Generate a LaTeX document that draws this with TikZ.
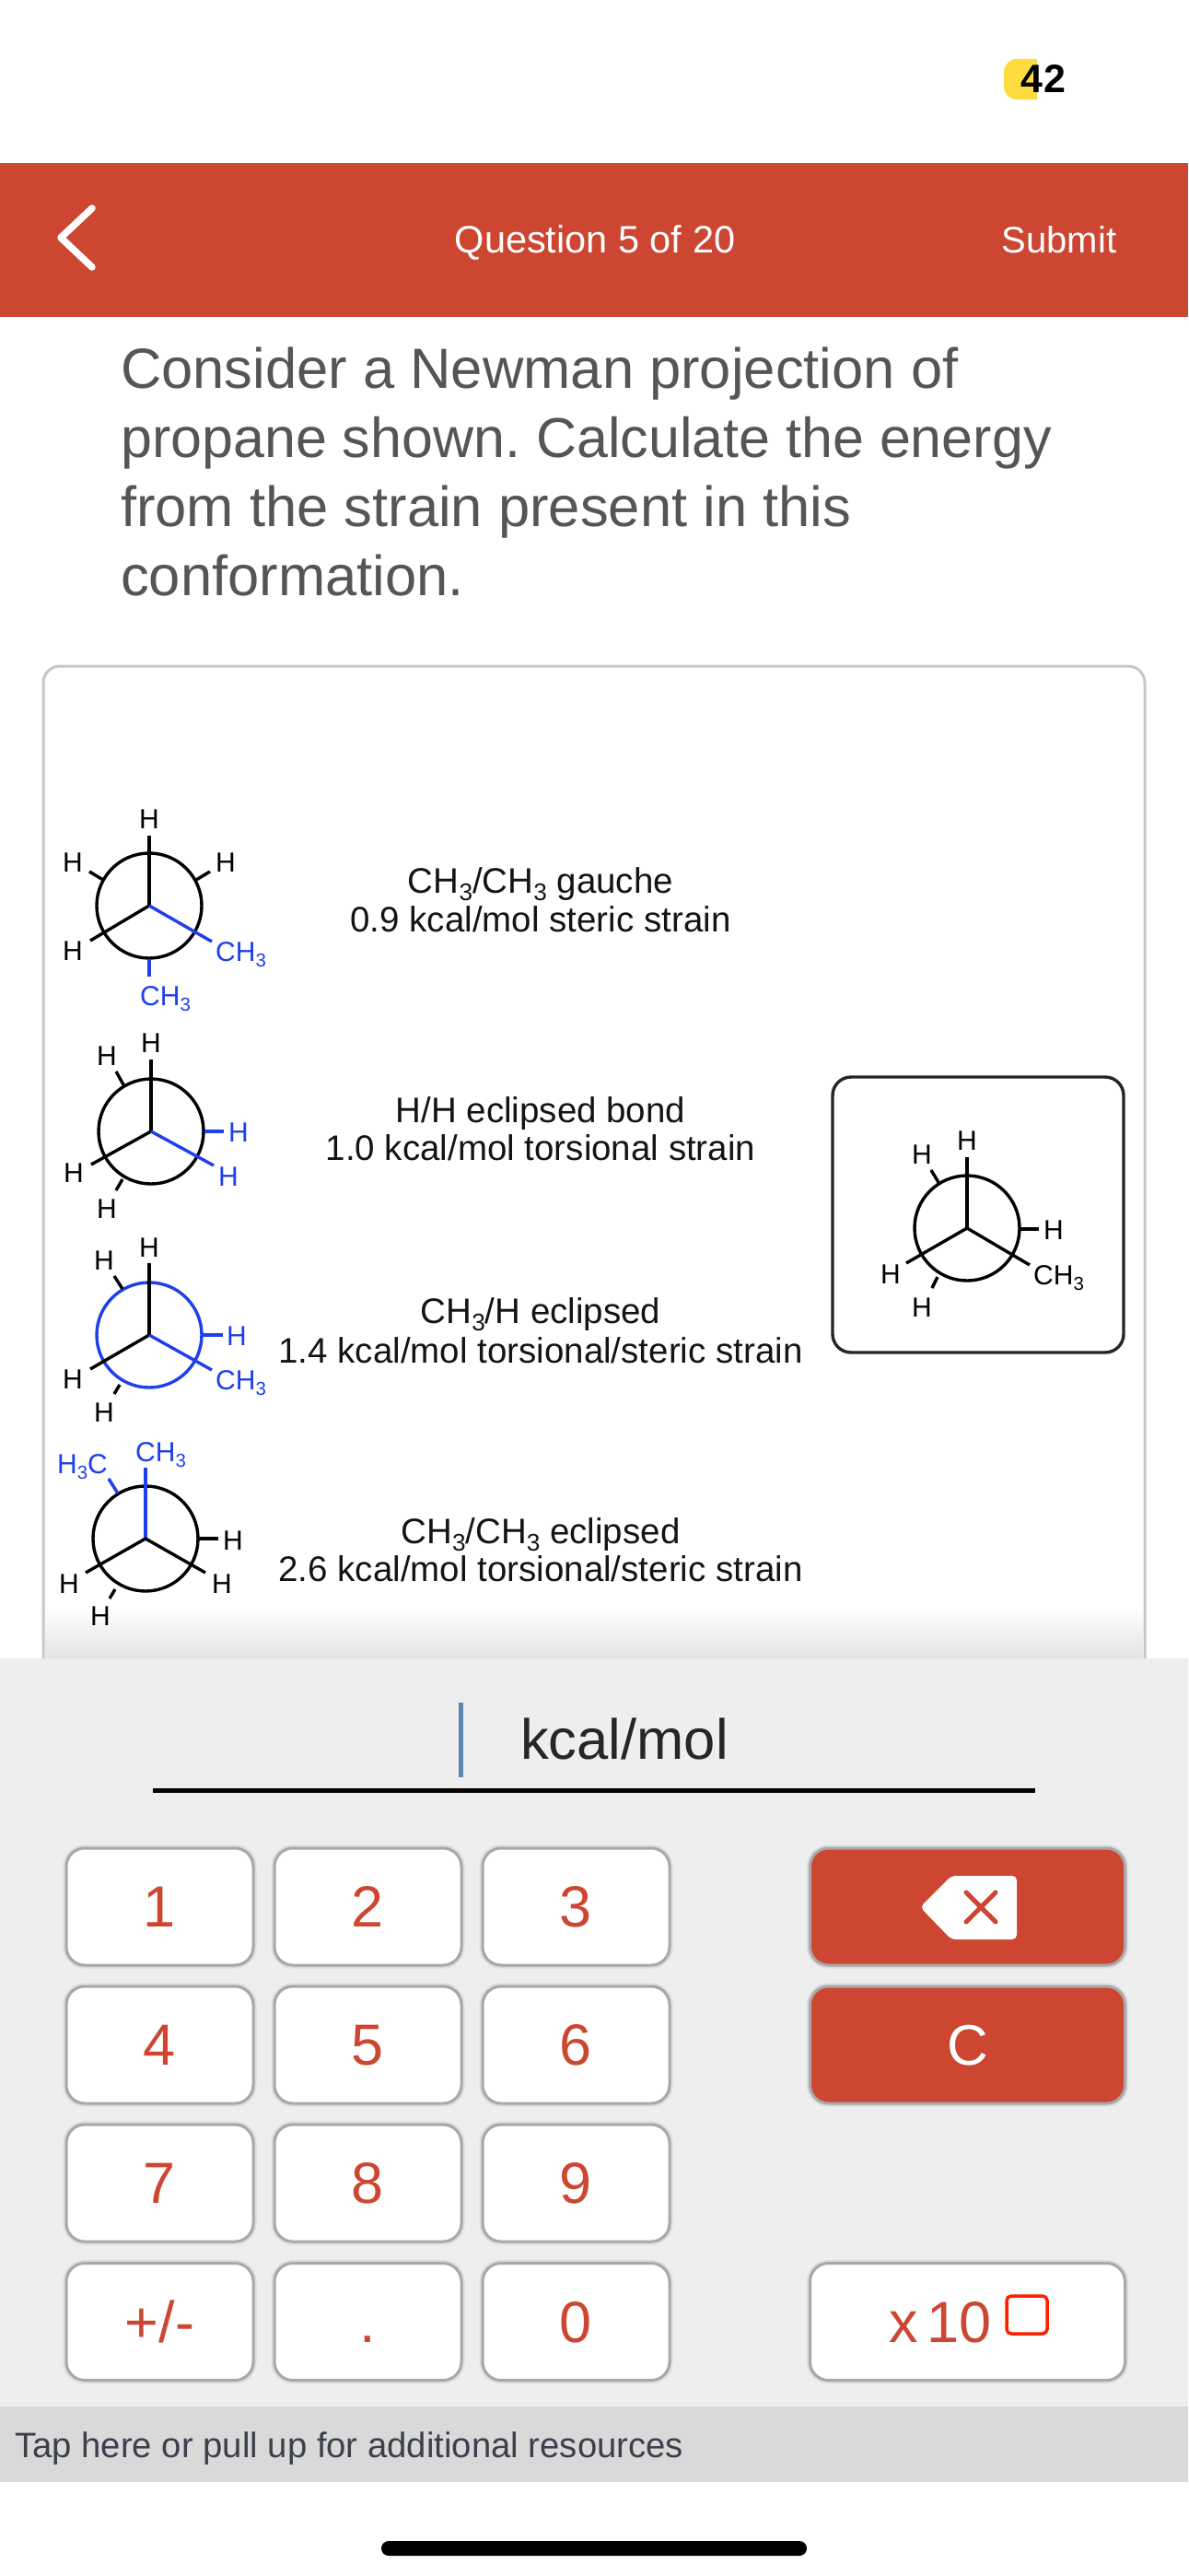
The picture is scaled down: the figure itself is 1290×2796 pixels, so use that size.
\documentclass[tikz,border=0pt]{standalone}
\usepackage{fontspec}
\setmainfont{Liberation Sans}
\definecolor{appred}{HTML}{CC4631}
\definecolor{chemblue}{HTML}{1F3FE8}
\definecolor{greytxt}{HTML}{555555}
\definecolor{keybg}{HTML}{EEEEEE}
\definecolor{keyedge}{HTML}{A8A8A8}
\definecolor{taptxt}{HTML}{3C404A}
\definecolor{cursorblue}{HTML}{5F86AD}
\newcommand{\fs}[1]{\fontsize{#1}{#1}\selectfont}
\newcommand{\three}{\raisebox{-0.21em}{\scalebox{.68}{3}}}
\newcommand{\CHt}{CH\three}
\tikzset{
  x=1pt,y=-1pt,
  bond/.style={line width=3.4pt,black},
  bbond/.style={line width=3.4pt,chemblue},
  ring/.style={line width=3.4pt,draw=black},
  bring/.style={line width=3.4pt,draw=chemblue},
  atom/.style={inner sep=0pt,anchor=base,font=\fs{30},yshift=-11pt,text=black},
  batom/.style={atom,text=chemblue},
  grp/.style={atom,anchor=base west},
  bgrp/.style={batom,anchor=base west},
  strain/.style={inner sep=0pt,anchor=base,font=\fs{38.5},yshift=-14pt,text=black!92},
  prompt/.style={inner sep=0pt,anchor=base west,font=\fs{61.5},text=greytxt},
  keybox/.style={draw=keyedge,line width=3pt,fill=white,rounded corners=20pt,minimum width=203pt,minimum height=127pt,inner sep=0pt,preaction={draw=black!14,line width=7pt}},
  redkey/.style={keybox,fill=appred,minimum width=342pt},
  keytxt/.style={inner sep=0pt,anchor=base,font=\fs{63},text=appred,yshift=-22pt}
}
\begin{document}
\frenchspacing
\begin{tikzpicture}
\useasboundingbox (0,0) rectangle (1290,2796);
\fill[white] (0,0) rectangle (1290,2796);
% status badge
\fill[yellow!70!orange!75] (1126,64) [rounded corners=14pt] -- (1090,64) -- (1090,108) [sharp corners] -- (1126,108) -- cycle;
\node[inner sep=0pt,anchor=base,font=\bfseries\fs{43}] (timer) at (1133,101) {4\kern2pt 2};
% header
\fill[appred] (0,177) rectangle (1290,344);
\draw[white,line width=7.5pt,line cap=round,line join=round] (100,226) -- (66,258) -- (100,290);
\node[inner sep=0pt,anchor=base,font=\fs{41.5},text=white] (title) at (646,275) {Question 5 of 20};
\node[inner sep=0pt,anchor=base,font=\fs{40},text=white] (submit) at (1150,275) {Submit};
% question
\node[prompt] (q1) at (131,421) {Consider a Newman projection of};
\node[prompt,font=\fs{61}] (q2) at (131,496) {propane shown. Calculate the energy};
\node[prompt] (q3) at (131,571) {from the strain present in this};
\node[prompt] (q4) at (131,646) {conformation.};
% panel
\draw[black!22,line width=3pt,fill=white,rounded corners=18pt] (47,1830) -- (47,723) -- (1243,723) -- (1243,1830);
\shade[top color=white,bottom color=black!11] (49,1745) rectangle (1241,1800);
% Newman 1
\coordinate (a) at (162,983);
\draw[ring] (a) circle (57);
\draw[bond] (a) -- (162,907);
\draw[bond] (a) -- (98,1021);
\draw[bbond] (a) -- (230,1022);
\draw[bond] (97,946) -- (112,955);
\draw[bond] (228,946) -- (213,955);
\draw[bbond] (162,1041) -- (162,1060);
\node[atom] at (162,888) {H};
\node[atom] at (79,935) {H};
\node[atom] at (245,935) {H};
\node[atom] at (79,1031) {H};
\node[bgrp] at (234,1032) {\CHt};
\node[bgrp] at (152,1080) {\CHt};
\node[strain] at (587,955) {CH\three/CH\three{} gauche};
\node[strain] at (587,997) {0.9 kcal/mol steric strain};
% Newman 2
\coordinate (b) at (164,1228);
\draw[ring] (b) circle (57);
\draw[bond] (b) -- (164,1150);
\draw[bond] (b) -- (99,1264);
\draw[bbond] (b) -- (232,1265);
\draw[bond] (126,1163) -- (135,1179);
\draw[bbond] (222,1228) -- (243,1228);
\draw[bond] (133,1280) -- (126,1292);
\node[atom] at (164,1131) {H};
\node[atom] at (116,1145) {H};
\node[batom] at (259,1228) {H};
\node[batom] at (248,1276) {H};
\node[atom] at (80,1272) {H};
\node[atom] at (116,1311) {H};
\node[strain] at (587,1204) {H/H eclipsed bond};
\node[strain] at (587,1245) {1.0 kcal/mol torsional strain};
% Newman 3
\coordinate (c) at (162,1449);
\draw[bring] (c) circle (57);
\draw[bond] (c) -- (162,1371);
\draw[bond] (c) -- (98,1486);
\draw[bbond] (c) -- (230,1487);
\draw[bond] (124,1385) -- (133,1399);
\draw[bbond] (218,1449) -- (242,1449);
\draw[bond] (130,1503) -- (124,1513);
\node[atom] at (162,1353) {H};
\node[atom] at (113,1367) {H};
\node[batom] at (257,1449) {H};
\node[bgrp] at (234,1497) {\CHt};
\node[atom] at (79,1496) {H};
\node[atom] at (113,1532) {H};
\node[strain] at (587,1422) {CH\three/H eclipsed};
\node[strain] at (587,1465) {1.4 kcal/mol torsional/steric strain};
% Newman 4
\coordinate (d) at (158,1670);
\draw[ring] (d) circle (57);
\draw[bbond] (d) -- (158,1593);
\draw[bond] (d) -- (93,1707);
\draw[bond] (d) -- (223,1707);
\draw[bbond] (118,1605) -- (128,1621);
\draw[bond] (214,1670) -- (237,1670);
\draw[bond] (125,1725) -- (119,1735);
\node[bgrp] at (147,1575) {\CHt};
\node[bgrp] at (62,1588) {H\three C};
\node[atom] at (253,1671) {H};
\node[atom] at (241,1718) {H};
\node[atom] at (75,1718) {H};
\node[atom] at (109,1753) {H};
\node[strain] at (587,1661) {CH\three/CH\three{} eclipsed};
\node[strain] at (587,1702) {2.6 kcal/mol torsional/steric strain};
% boxed structure
\draw[line width=3.4pt,black!85,rounded corners=20pt] (904,1169) rectangle (1220,1468);
\coordinate (e) at (1050,1333);
\draw[ring] (e) circle (57);
\draw[bond] (e) -- (1050,1256);
\draw[bond] (e) -- (984,1371);
\draw[bond] (e) -- (1118,1373);
\draw[bond] (1011,1270) -- (1020,1285);
\draw[bond] (1107,1334) -- (1128,1334);
\draw[bond] (1018,1386) -- (1012,1398);
\node[atom] at (1050,1237) {H};
\node[atom] at (1001,1252) {H};
\node[atom] at (1144,1334) {H};
\node[grp] at (1122,1383) {\CHt};
\node[atom] at (967,1382) {H};
\node[atom] at (1001,1418) {H};
% keypad
\fill[keybg] (0,1800) rectangle (1290,2612);
\draw[line width=5pt,color=cursorblue] (500,1848) -- (500,1929);
\node[inner sep=0pt,anchor=base west,font=\fs{61.5},text=black!85] (unit) at (565,1909) {kcal/mol};
\draw[line width=5pt,black] (166,1943) -- (1124,1943);
\node[keybox] (k1) at (173.5,2069.5) {};
\node[keybox] (k2) at (399.5,2069.5) {};
\node[keybox] (k3) at (625.5,2069.5) {};
\node[keybox] (k4) at (173.5,2219.5) {};
\node[keybox] (k5) at (399.5,2219.5) {};
\node[keybox] (k6) at (625.5,2219.5) {};
\node[keybox] (k7) at (173.5,2369.5) {};
\node[keybox] (k8) at (399.5,2369.5) {};
\node[keybox] (k9) at (625.5,2369.5) {};
\node[keybox] (ks) at (173.5,2520) {};
\node[keybox] (kd) at (399.5,2520) {};
\node[keybox] (k0) at (625.5,2520) {};
\node[keytxt] at (k1) {1};
\node[keytxt] at (k2) {2};
\node[keytxt] at (k3) {3};
\node[keytxt] at (k4) {4};
\node[keytxt] at (k5) {5};
\node[keytxt] at (k6) {6};
\node[keytxt] at (k7) {7};
\node[keytxt] at (k8) {8};
\node[keytxt] at (k9) {9};
\node[keytxt] at (ks) {+/-};
\node[keytxt] at (kd) {.};
\node[keytxt] at (k0) {0};
\node[redkey] (kb) at (1050.5,2069.5) {};
\node[redkey] (kc) at (1050.5,2219.5) {};
\node[keybox,minimum width=342pt] (kx) at (1050.5,2520) {};
\fill[white,rounded corners=5pt] (999,2070) -- (1033,2036) -- (1104,2036) -- (1104,2105) -- (1033,2105) -- cycle;
\draw[appred,line width=5pt,line cap=round] (1049,2054) -- (1081,2086);
\draw[appred,line width=5pt,line cap=round] (1049,2086) -- (1081,2054);
\node[keytxt,text=white,font=\fs{62}] at (kc) {C};
\node[inner sep=0pt,anchor=base west,font=\fs{63},text=appred] (xten) at (965,2542) {x\kern10pt 10};
\draw[line width=3.5pt,draw=red!75!orange,rounded corners=5pt] (1093,2492) rectangle (1137,2533);
% footer
\fill[black!15] (0,2612) rectangle (1290,2694);
\node[inner sep=0pt,anchor=base west,font=\fs{38.3},text=taptxt] (tap) at (16,2667) {Tap here or pull up for additional resources};
\fill[black,rounded corners=8pt] (414,2758) rectangle (876,2774);
\end{tikzpicture}
\end{document}
